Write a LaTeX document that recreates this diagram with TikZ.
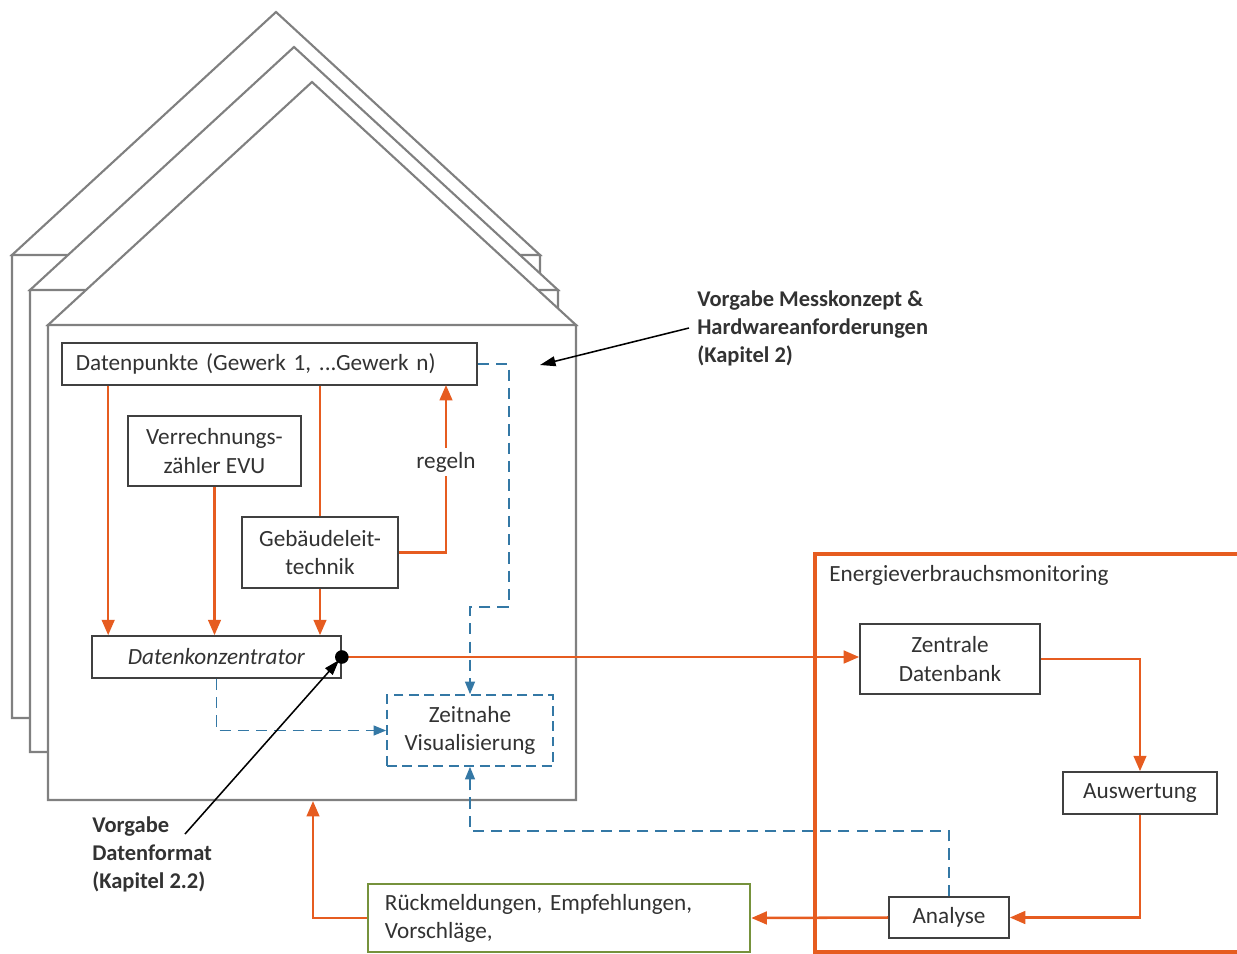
\documentclass[tikz,border=0pt]{standalone}
\usepackage{fontspec}
\setmainfont{Carlito}
\usetikzlibrary{arrows.meta}
\definecolor{evorange}{RGB}{230,92,32}
\definecolor{evblue}{RGB}{52,120,165}
\definecolor{evgreen}{RGB}{118,146,60}
\definecolor{evgray}{RGB}{128,128,128}
\definecolor{evtext}{RGB}{50,50,50}
\frenchspacing
\begin{document}
\begin{tikzpicture}
    [x=0.025cm, y=-0.025cm,
    font=\fontsize{16.5}{20}\selectfont,
    house/.style={draw=evgray, line width=1.5pt, fill=white},
    box/.style={draw=black!75, line width=1.1pt, fill=white, text=evtext, align=center, inner sep=0pt},
    note/.style={text=evtext, font=\fontsize{16}{20}\selectfont\bfseries, align=left, inner sep=0pt},
    oarr/.style={draw=evorange, line width=1.8pt, -{Triangle[length=11pt,width=9pt]}},
    barr/.style={draw=evblue, line width=1.3pt, dash pattern=on 8pt off 5pt, -{Triangle[length=9pt,width=7pt]}},
    karr/.style={draw=black, line width=1.1pt, -{Triangle[length=11pt,width=7pt]}}]
    \useasboundingbox (0,0) rectangle (1237,954);
    \foreach \dx/\dy/\yb in {0/0/718, 18/35/752, 36/70/800}
      \draw[house] (12+\dx,255+\dy) -- (276+\dx,12+\dy) -- (540+\dx,255+\dy) -- cycle
        (12+\dx,255+\dy) rectangle (540+\dx,\yb);
    \draw[evorange, line width=2.4pt] (1240,554) -- (815,554) -- (815,952) -- (1240,952);
    \node[text=evtext, anchor=west, inner sep=0pt] (evm) at (829,575) {Energieverbrauchsmonitoring};
    \node[box, text width=9.675cm, align=left, inner xsep=0.35cm, minimum height=1.05cm] (dp) at (269.5,364) {Datenpunkte (Gewerk 1, ...Gewerk n)};
    \node[box, minimum width=4.325cm, minimum height=1.75cm] (vz) at (214.5,451) {Verrechnungs-\\zähler EVU};
    \node[box, minimum width=3.9cm, minimum height=1.775cm] (gl) at (320,552.5) {Gebäudeleit-\\technik};
    \node[box, minimum width=6.225cm, minimum height=1.05cm] (dk) at (216.5,657) {\textit{Datenkonzentrator}};
    \node[box, draw=evblue, dash pattern=on 7pt off 4pt, minimum width=4.15cm, minimum height=1.775cm] (zt) at (470,730.5) {Zeitnahe\\Visualisierung};
    \node[box, minimum width=4.5cm, minimum height=1.75cm] (zb) at (950,659) {Zentrale\\Datenbank};
    \node[box, minimum width=3.85cm, minimum height=1.05cm] (aw) at (1140,793) {Auswertung};
    \node[box, minimum width=3cm, minimum height=1.025cm] (an) at (949,917.5) {Analyse};
    \node[box, draw=evgreen, line width=1.8pt, text width=8.7cm, align=left, inner xsep=0.425cm, minimum height=1.7cm] (rm) at (559,918) {Rückmeldungen, Empfehlungen,\\Vorschläge,};
    \node[note, anchor=west] (vmk) at (697,328) {Vorgabe Messkonzept \&\\Hardwareanforderungen\\(Kapitel 2)};
    \node[note, anchor=north west] (vdf) at (92,816) {Vorgabe\\Datenformat\\(Kapitel 2.2)};
    \coordinate (rg) at (446,385);
    \coordinate (hb) at (313,801);
    \coordinate (dpin) at (540,365);
    \coordinate (vdfa) at (185,834);
    \coordinate (dot) at (dk.east);
    \draw[oarr] (dp.south west) ++(47,0) coordinate (d1) -- (d1 |- dk.north);
    \draw[oarr] (vz.south) -- (vz.south |- dk.north);
    \draw[evorange, line width=1.8pt] (gl.north |- dp.south) -- (gl.north);
    \draw[oarr] (gl.south) -- (gl.south |- dk.north);
    \draw[oarr] (gl.east) -| node[pos=0.77, fill=white, text=evtext, inner sep=3pt] {regeln} (rg);
    \draw[barr] (dp.east) -- ++(31,0) -- ++(0,243) -| (zt.north);
    \draw[barr] (dk.south) |- (zt.west);
    \draw[barr] (an.north) -- ++(0,-65) -| (zt.south);
    \draw[oarr] (dot) -- (dot -| zb.west);
    \draw[oarr] (zb.east) -| (aw.north);
    \draw[oarr] (aw.south) |- (an.east);
    \draw[oarr] (an.west) -- (rm.east);
    \draw[oarr] (rm.west) -| (hb);
    \fill (dot) circle[radius=0.17cm];
    \draw[karr] ([xshift=-0.2cm]vmk.west) -- (dpin);
    \draw[karr, shorten >=0.1cm] (vdfa) -- (dot);
  \end{tikzpicture}
\end{document}
